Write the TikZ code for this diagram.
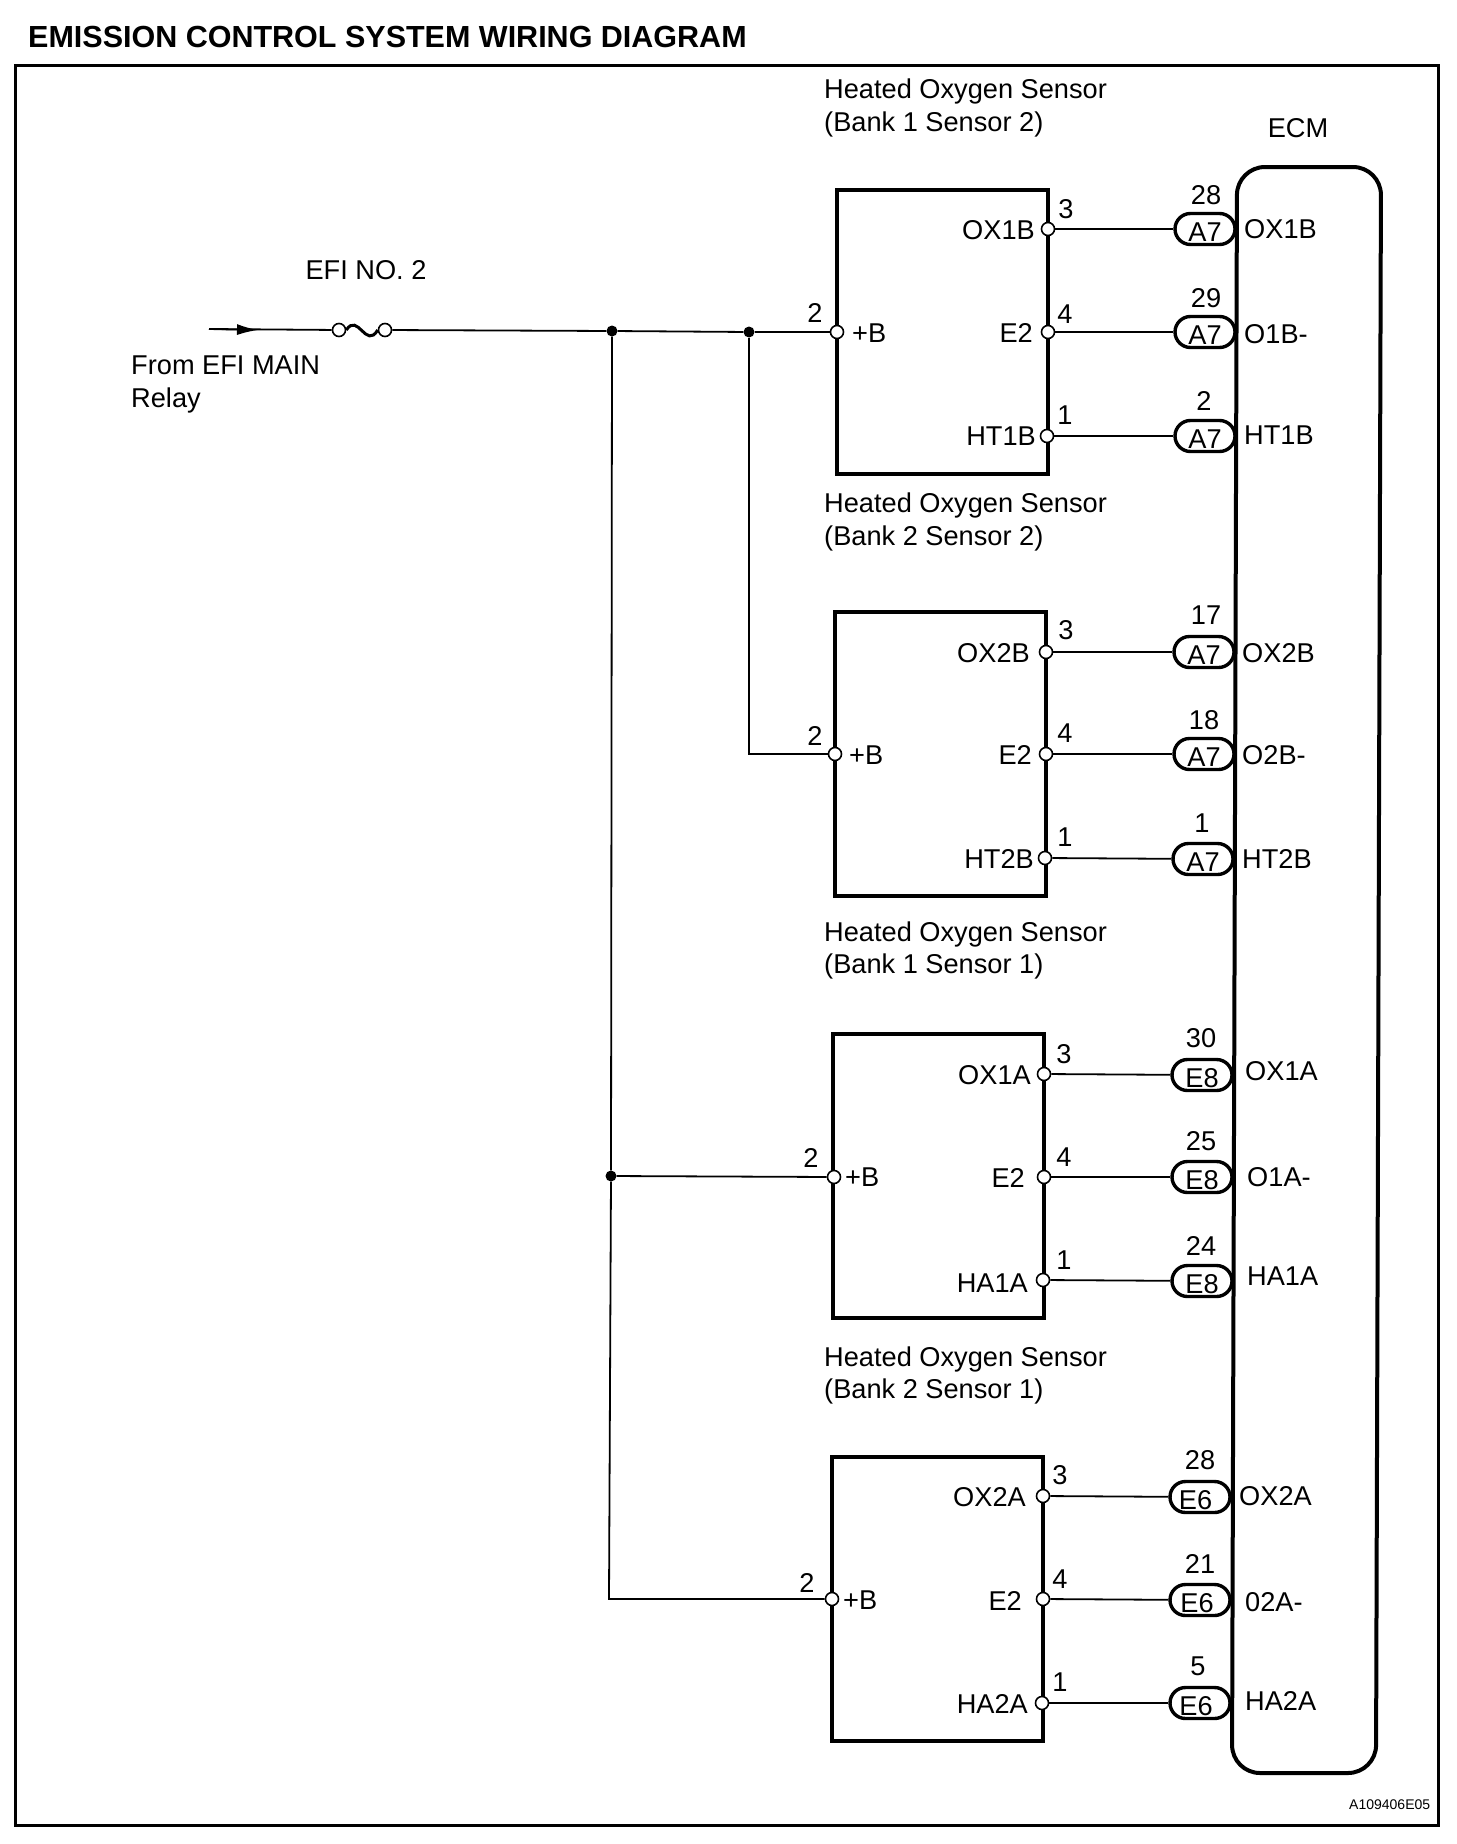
\documentclass[tikz,border=0pt]{standalone}
\usepackage{fontspec}
\setmainfont{Liberation Sans}
\usetikzlibrary{arrows.meta}
\tikzset{
    lbl/.style={inner sep=0pt, text height=19.5pt, text depth=0pt, font=\fontsize{27.2}{32}\selectfont},
    wire/.style={line width=1.8pt},
    sensorbox/.style={draw, line width=4pt, minimum width=211pt, minimum height=284pt},
    pin/.style={circle, draw, fill=white, line width=1.6pt, inner sep=0pt, minimum size=13pt},
    dot/.style={circle, fill=black, inner sep=0pt, minimum size=11pt},
    plug/.style={draw, fill=white, line width=3.4pt, rounded corners=15.5pt, inner sep=0pt,
        minimum width=60pt, minimum height=31pt, text height=24pt, text depth=0pt,
        font=\fontsize{27.2}{32}\selectfont},
}
\begin{document}
\begin{tikzpicture}[x=1pt, y=-1pt]
    \useasboundingbox (0,0) rectangle (1456,1844);
    \draw[line width=3pt] (15,66) rectangle (1438,1825);
    \node[lbl, anchor=west, font=\fontsize{30.5}{34}\bfseries] (title) at (28,38) {EMISSION CONTROL SYSTEM WIRING DIAGRAM};
    \node[lbl] (ecmlbl) at (1298,128) {ECM};
    \node[lbl, anchor=west, font=\fontsize{14}{16}\selectfont, text height=10pt] (code) at (1349,1804) {A109406E05};

    % feed and fuse
    \node[lbl] (efi) at (366,270) {EFI NO. 2};
    \node[lbl, anchor=west] (from) at (131,365) {From EFI MAIN};
    \node[lbl, anchor=west] (relay) at (131,398) {Relay};
    \coordinate (src) at (209,329);
    \coordinate (tip) at (258,330);
    \node[pin] (fa) at (339,330) {};
    \node[pin] (fb) at (385,330) {};
    \node[dot] (ja) at (612,331) {};
    \node[dot] (jb) at (749,332) {};
    \node[dot] (jc) at (611,1176) {};
    \coordinate (bend) at (609,1599);

    % sensor boxes
    \node[sensorbox] (sa) at (942.5,331.5) {};
    \node[sensorbox] (sb) at (940.5,754) {};
    \node[sensorbox] (sc) at (938.5,1176) {};
    \node[sensorbox] (sd) at (937.5,1599) {};

    % sensor titles
    \node[lbl, anchor=west] (ta1) at (824,89) {Heated Oxygen Sensor};
    \node[lbl, anchor=west] (ta2) at (824,122) {(Bank 1 Sensor 2)};
    \node[lbl, anchor=west] (tb1) at (824,503) {Heated Oxygen Sensor};
    \node[lbl, anchor=west] (tb2) at (824,536) {(Bank 2 Sensor 2)};
    \node[lbl, anchor=west] (tc1) at (824,932) {Heated Oxygen Sensor};
    \node[lbl, anchor=west] (tc2) at (824,964) {(Bank 1 Sensor 1)};
    \node[lbl, anchor=west] (td1) at (824,1357) {Heated Oxygen Sensor};
    \node[lbl, anchor=west] (td2) at (824,1389) {(Bank 2 Sensor 1)};

    % pins
    \node[pin] (pa2) at (837,332) {};
    \node[pin] (pa3) at (1048,229) {};
    \node[pin] (pa4) at (1048,332) {};
    \node[pin] (pa1) at (1047,436) {};
    \node[pin] (pb2) at (835,754) {};
    \node[pin] (pb3) at (1046,652) {};
    \node[pin] (pb4) at (1046,754) {};
    \node[pin] (pb1) at (1045,858) {};
    \node[pin] (pc2) at (834,1177) {};
    \node[pin] (pc3) at (1044,1074) {};
    \node[pin] (pc4) at (1044,1177) {};
    \node[pin] (pc1) at (1043,1280) {};
    \node[pin] (pd2) at (832,1599) {};
    \node[pin] (pd3) at (1043,1496) {};
    \node[pin] (pd4) at (1043,1599) {};
    \node[pin] (pd1) at (1042,1703) {};

    % plugs at the ECM
    \node[plug] (ca3) at (1205,229) {A7};
    \node[plug] (ca4) at (1205,332) {A7};
    \node[plug] (ca1) at (1205,436) {A7};
    \node[plug] (cb3) at (1204,652) {A7};
    \node[plug] (cb4) at (1204,754) {A7};
    \node[plug] (cb1) at (1203,859) {A7};
    \node[plug] (cc3) at (1202,1075) {E8};
    \node[plug] (cc4) at (1202,1177) {E8};
    \node[plug] (cc1) at (1202,1281) {E8};
    \node[plug] (cd3) at (1200,1497) {E6\kern9pt};
    \node[plug] (cd4) at (1200,1600) {E6\kern6pt};
    \node[plug] (cd1) at (1200,1703) {E6\kern8pt};

    % ECM
    \draw[line width=4pt, rounded corners=28pt] (1237,167) -- (1381,167) -- (1376,1773) -- (1232,1773) -- cycle;

    % wires
    \draw[wire] (src) -- (fa);
    \draw[wire, -{Latex[length=21pt, width=11pt]}] (src) -- (tip);
    \draw[line width=3pt] (fa.east) .. controls (358,312) and (366,350) .. (fb.west);
    \draw[wire] (fb) -- (ja);
    \draw[wire] (ja) -- (jb);
    \draw[wire] (jb) -- (pa2);
    \draw[wire] (jb) |- (pb2);
    \draw[wire] (ja) -- (jc);
    \draw[wire] (jc) -- (pc2);
    \draw[wire] (jc) -- (bend) -- (pd2);
    \draw[wire] (pa3) -- (ca3);
    \draw[wire] (pa4) -- (ca4);
    \draw[wire] (pa1) -- (ca1);
    \draw[wire] (pb3) -- (cb3);
    \draw[wire] (pb4) -- (cb4);
    \draw[wire] (pb1) -- (cb1);
    \draw[wire] (pc3) -- (cc3);
    \draw[wire] (pc4) -- (cc4);
    \draw[wire] (pc1) -- (cc1);
    \draw[wire] (pd3) -- (cd3);
    \draw[wire] (pd4) -- (cd4);
    \draw[wire] (pd1) -- (cd1);

    % pin numbers
    \node[lbl] (na2) at (815,313) {2};
    \node[lbl] (na3) at (1066,209) {3};
    \node[lbl] (na4) at (1065,314) {4};
    \node[lbl] (na1) at (1065,415) {1};
    \node[lbl] (nb2) at (815,736) {2};
    \node[lbl] (nb3) at (1066,630) {3};
    \node[lbl] (nb4) at (1065,733) {4};
    \node[lbl] (nb1) at (1065,837) {1};
    \node[lbl] (nc2) at (811,1158) {2};
    \node[lbl] (nc3) at (1064,1054) {3};
    \node[lbl] (nc4) at (1064,1157) {4};
    \node[lbl] (nc1) at (1064,1260) {1};
    \node[lbl] (nd2) at (807,1583) {2};
    \node[lbl] (nd3) at (1060,1475) {3};
    \node[lbl] (nd4) at (1060,1579) {4};
    \node[lbl] (nd1) at (1060,1682) {1};

    % terminal names in the sensors
    \node[lbl, anchor=west] (ba) at (852,333) {+B};
    \node[lbl, anchor=east] (oa3) at (1035,230) {OX1B};
    \node[lbl, anchor=east] (oa4) at (1033,333) {E2};
    \node[lbl, anchor=east] (oa1) at (1036,436) {HT1B};
    \node[lbl, anchor=west] (bb) at (849,755) {+B};
    \node[lbl, anchor=east] (ob3) at (1030,653) {OX2B};
    \node[lbl, anchor=east] (ob4) at (1032,755) {E2};
    \node[lbl, anchor=east] (ob1) at (1034,859) {HT2B};
    \node[lbl, anchor=west] (bc) at (845,1177) {+B};
    \node[lbl, anchor=east] (oc3) at (1031,1075) {OX1A};
    \node[lbl, anchor=east] (oc4) at (1025,1178) {E2};
    \node[lbl, anchor=east] (oc1) at (1028,1283) {HA1A};
    \node[lbl, anchor=west] (bd) at (843,1600) {+B};
    \node[lbl, anchor=east] (od3) at (1026,1497) {OX2A};
    \node[lbl, anchor=east] (od4) at (1022,1601) {E2};
    \node[lbl, anchor=east] (od1) at (1028,1704) {HA2A};

    % ECM pin numbers
    \node[lbl] (ma3) at (1206,195) {28};
    \node[lbl] (ma4) at (1206,298) {29};
    \node[lbl] (ma1) at (1204,401) {2};
    \node[lbl] (mb3) at (1206,615) {17};
    \node[lbl] (mb4) at (1204,720) {18};
    \node[lbl] (mb1) at (1202,823) {1};
    \node[lbl] (mc3) at (1201,1038) {30};
    \node[lbl] (mc4) at (1201,1141) {25};
    \node[lbl] (mc1) at (1201,1246) {24};
    \node[lbl] (md3) at (1200,1460) {28};
    \node[lbl] (md4) at (1200,1564) {21};
    \node[lbl] (md1) at (1198,1666) {5};

    % ECM terminal names
    \node[lbl, anchor=west] (ea3) at (1244,229) {OX1B};
    \node[lbl, anchor=west] (ea4) at (1244,334) {O1B-};
    \node[lbl, anchor=west] (ea1) at (1244,435) {HT1B};
    \node[lbl, anchor=west] (eb3) at (1242,653) {OX2B};
    \node[lbl, anchor=west] (eb4) at (1242,755) {O2B-};
    \node[lbl, anchor=west] (eb1) at (1242,859) {HT2B};
    \node[lbl, anchor=west] (ec3) at (1245,1071) {OX1A};
    \node[lbl, anchor=west] (ec4) at (1247,1177) {O1A-};
    \node[lbl, anchor=west] (ec1) at (1247,1276) {HA1A};
    \node[lbl, anchor=west] (ed3) at (1239,1496) {OX2A};
    \node[lbl, anchor=west] (ed4) at (1245,1602) {02A-};
    \node[lbl, anchor=west] (ed1) at (1245,1701) {HA2A};
\end{tikzpicture}
\end{document}
